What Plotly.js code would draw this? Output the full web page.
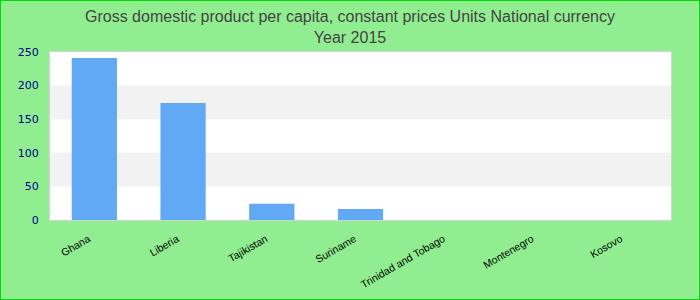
<!DOCTYPE html>
<html><head><meta charset="utf-8">
<script src="https://cdn.plot.ly/plotly-3.0.1.min.js"></script>
<style>
html,body{margin:0;padding:0;background:#90ee90;}
#chart{width:700px;height:300px;box-sizing:border-box;border:1px solid #00dd00;}
</style></head>
<body><div id="chart"></div>
<script>
var categories = ["Ghana","Liberia","Tajikistan","Suriname","Trinidad and Tobago","Montenegro","Kosovo"];
var values = [241, 174, 24, 16.5, 0, 0, 0];
var yTicks = [0, 50, 100, 150, 200, 250];
var bands = [[50, 100], [150, 200]];

var shapes = bands.map(function(b){
  return {type:'rect', xref:'paper', yref:'y', x0:0, x1:1, y0:b[0], y1:b[1],
          fillcolor:'#f2f2f2', line:{width:0}, layer:'below'};
});

var data = [{
  type:'bar', x:categories, y:values,
  marker:{color:'#62a9f5'}, hoverinfo:'x+y'
}];

var layout = {
  width:698, height:298,
  paper_bgcolor:'#90ee90', plot_bgcolor:'#ffffff',
  margin:{l:49, r:28, t:51, b:79},
  title:{text:'Gross domestic product per capita, constant prices Units National currency<br>Year 2015',
         font:{family:'Liberation Sans, Arial, sans-serif', size:16, color:'#444444'},
         x:0.5, xanchor:'center', y:0.929, yanchor:'middle'},
  bargap:0.49,
  shapes:shapes,
  showlegend:false,
  xaxis:{type:'category', tickangle:-30, showgrid:false, zeroline:false,
         showline:true, mirror:true, linecolor:'#d4d4d4', linewidth:1,
         tickfont:{family:'Liberation Sans, Arial, sans-serif', size:10.5, color:'#000000'},
         ticks:'outside', ticklen:8, tickcolor:'rgba(0,0,0,0)', ticklabelshift:-6},
  yaxis:{range:[0,250], tickvals:yTicks, showgrid:false, zeroline:false,
         showline:true, mirror:true, linecolor:'#d4d4d4', linewidth:1,
         tickfont:{family:'DejaVu Sans, Verdana, sans-serif', size:11, color:'#00008b'},
         ticks:'outside', ticklen:8, tickcolor:'rgba(0,0,0,0)'}
};
Plotly.newPlot('chart', data, layout, {displayModeBar:false, staticPlot:true});
</script></body></html>
